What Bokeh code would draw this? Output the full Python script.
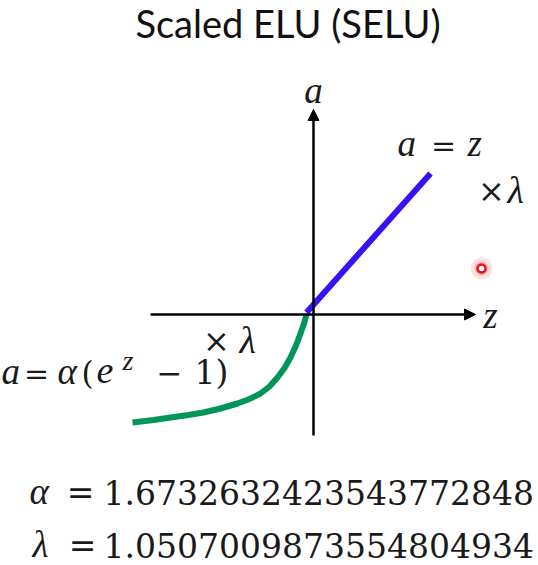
from bokeh.plotting import figure
from bokeh.models import Range1d, Arrow, NormalHead
from bokeh.core.properties import value
from bokeh.embed import file_html
from bokeh.resources import INLINE

# ---- data (units: 1 unit = 50 px, origin at axes crossing)
green_z = [-3.62, -3.2, -2.86, -2.5, -2.2, -1.86, -1.52, -1.28, -1.06, -0.88,
           -0.72, -0.58, -0.46, -0.35, -0.26, -0.19, -0.14]
green_a = [-2.16, -2.11, -2.06, -2.01, -1.96, -1.88, -1.78, -1.69, -1.58, -1.44,
           -1.26, -1.07, -0.86, -0.62, -0.38, -0.18, 0.0]
blue_z = [-0.14, 2.34]
blue_a = [0.04, 2.82]
z_axis_extent = [-3.26, 3.24]
a_axis_extent = [-2.42, 4.1]
cursor_z = [3.36]
cursor_a = [0.92]

title_text = "Scaled ELU (SELU)"
alpha_value = "1.6732632423543772848"
lambda_value = "1.0507009873554804934"

W, H = 538, 565
OX, OY, S = 313, 314, 50.0   # pixel of origin, px per unit


def P(px, py):
    return (px - OX) / S, (OY - py) / S


x0, _ = P(0, 0)
x1, _ = P(W, 0)
_, y0 = P(0, H)
_, y1 = P(0, 0)

p = figure(width=W, height=H, output_backend="svg", toolbar_location=None,
           x_range=Range1d(x0, x1), y_range=Range1d(y0, y1),
           x_axis_type=None, y_axis_type=None, min_border=0,
           outline_line_color=None, background_fill_color="white",
           border_fill_color="white")
p.grid.visible = False

# axes with arrow heads
p.add_layout(Arrow(end=NormalHead(size=11, fill_color="black", line_color="black", line_width=1),
                   x_start=z_axis_extent[0], y_start=0, x_end=z_axis_extent[1], y_end=0,
                   line_width=2.5, line_color="black"))
p.add_layout(Arrow(end=NormalHead(size=11, fill_color="black", line_color="black", line_width=1),
                   x_start=0, y_start=a_axis_extent[0], x_end=0, y_end=a_axis_extent[1],
                   line_width=2.5, line_color="black"))

# curves
p.line(green_z, green_a, line_width=6, line_color="#00965a", line_join="round")
p.line(blue_z, blue_a, line_width=6, line_color="#3a10f5", line_join="round")

# cursor highlight
p.scatter(cursor_z, cursor_a, size=22, fill_color="#ff6060", fill_alpha=0.18, line_color=None)
p.scatter(cursor_z, cursor_a, size=14, fill_color="#ff5050", fill_alpha=0.25, line_color=None)
p.scatter(cursor_z, cursor_a, size=8, fill_color="white", line_color="#e8101a", line_width=2.5)

SERIF_I = "Liberation Serif"
SERIF = "DejaVu Serif"
# correction of rendered baseline (fraction of font size)
SHIFT = {"Lato": 0.387, SERIF_I: 0.337, SERIF: 0.346}


def lab(text, px, py, font, size, style="normal", align="left", color="#1a1a1a"):
    x, y = P(px, py - SHIFT[font] * size)
    p.text(x=[x], y=[y], text=[text], text_font=value(font),
           text_font_size=value(f"{size}px"), text_font_style=style,
           text_align=align, text_baseline="alphabetic", text_color=color)


# title
lab(title_text, 287.5, 37.5, "Lato", 38, align="center", color="#111111")

# axis labels
lab("a", 313, 102, SERIF_I, 37, "italic", "center")
lab("z", 490, 327, SERIF_I, 37, "italic", "center")

# a = z  ×λ (upper)
lab("a", 397, 155, SERIF_I, 37, "italic")
lab("=", 443, 155, SERIF, 30, align="center")
lab("z", 467, 155, SERIF_I, 37, "italic")
lab("×", 491, 202, SERIF, 32, align="center")
lab("λ", 507, 202, SERIF_I, 38, "italic")

# ×λ (lower)
lab("×", 216, 352, SERIF, 32, align="center")
lab("λ", 239, 352, SERIF_I, 38, "italic")

# a = α(e^z − 1)
lab("a", 1, 383, SERIF_I, 37, "italic")
lab("=", 36, 383, SERIF, 30, align="center")
lab("α", 57, 383, SERIF_I, 37, "italic")
lab("(", 81, 383, SERIF, 31)
lab("e", 96, 383, SERIF_I, 38, "italic")
lab("z", 122, 369, SERIF_I, 28, "italic")
lab("−", 169, 383, SERIF, 31, align="center")
lab("1)", 194, 383, SERIF, 33)

# constants
lab("α", 29, 503, SERIF_I, 37, "italic")
lab("=", 80, 503, SERIF, 33, align="center")
lab(alpha_value, 103, 503, SERIF, 33)
lab("λ", 32, 556, SERIF_I, 37, "italic")
lab("=", 82, 556, SERIF, 33, align="center")
lab(lambda_value, 103, 556, SERIF, 33)

open("out.html", "w").write(file_html(p, INLINE))
